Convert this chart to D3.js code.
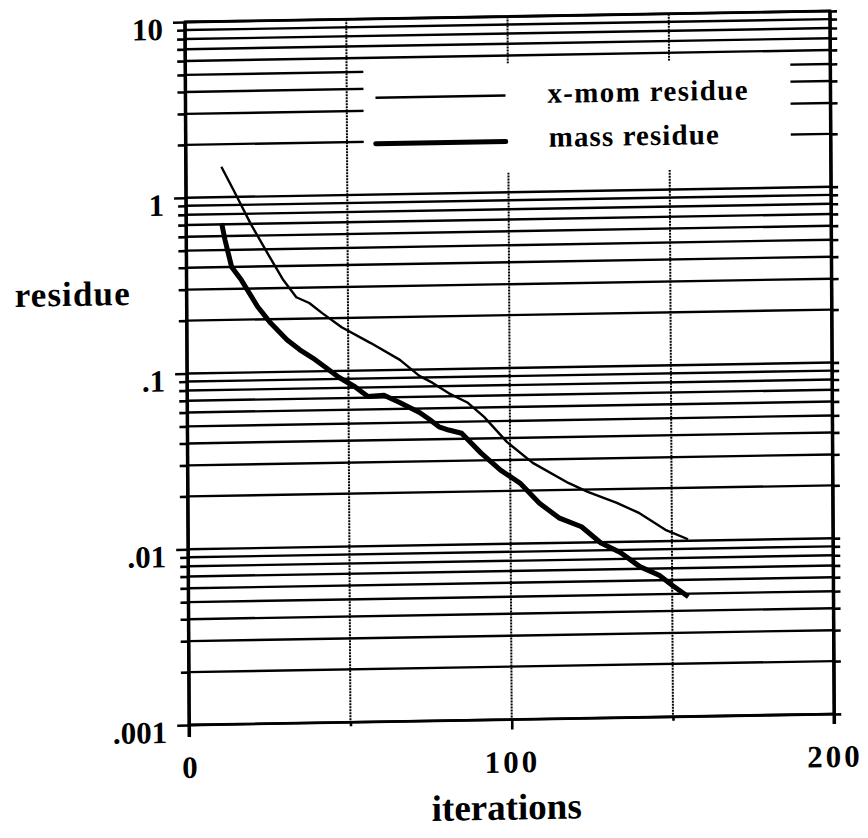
<!DOCTYPE html>
<html>
<head>
<meta charset="utf-8">
<script src="https://cdn.jsdelivr.net/npm/d3@7"></script>
<style>
  body { margin: 0; background: #fff; }
  text { font-family: "Liberation Serif", "Times New Roman", serif; font-weight: bold; fill: #000; }
</style>
</head>
<body>
<svg width="868" height="838"></svg>
<script>
  // x-mom residue (thin line)
  var xmomIter = [11, 15, 20, 25, 30, 34, 38, 42, 48, 57, 66, 72, 76, 81, 87, 92, 99, 107, 118, 124, 133, 140, 148, 155];
  var xmomRes  = [1.49, 1.07, 0.70, 0.48, 0.333, 0.265, 0.245, 0.214, 0.177, 0.143, 0.114, 0.092, 0.084, 0.073, 0.064, 0.053, 0.038, 0.0287, 0.0219, 0.0194, 0.0167, 0.0145, 0.0116, 0.0102];

  // mass residue (thick line)
  var massIter = [11, 12, 14, 17, 22, 26, 31, 35, 39, 43, 47, 52, 56, 61, 66, 72, 75, 78, 81, 85, 91, 97, 103, 109, 115, 122, 128, 134, 140, 146, 150, 155];
  var massRes  = [0.71, 0.57, 0.40, 0.336, 0.236, 0.190, 0.152, 0.133, 0.119, 0.105, 0.092, 0.081, 0.071, 0.072, 0.065, 0.057, 0.052, 0.047, 0.045, 0.043, 0.033, 0.0263, 0.0221, 0.0169, 0.0139, 0.0123, 0.0099, 0.0087, 0.0072, 0.0064, 0.0056, 0.0048];

  var yMajor = [10, 1, 0.1, 0.01, 0.001];
  var yLabels = ["10", "1", ".1", ".01", ".001"];
  var xTicks = [0, 50, 100, 150, 200];
  var xLabels = ["0", "", "100", "", "200"];
  var legendNames = ["x-mom residue", "mass residue"];

  var svg = d3.select("svg");
  var W = 645, H = 703;

  svg.append("rect").attr("width", 868).attr("height", 838).attr("fill", "#fff");

  // slight skew, like the scanned page
  var g = svg.append("g")
      .attr("transform", "matrix(1,-0.017,0.006,1,185,22)");

  var x = d3.scaleLinear().domain([0, 200]).range([0, W]);
  var y = d3.scaleLog().domain([0.001, 10]).range([H, 0]);

  var allY = y.ticks();
  var minorY = allY.filter(function(v) {
    return yMajor.every(function(m) { return Math.abs(v - m) / m > 1e-6; });
  });

  // horizontal grid at every log tick
  g.append("g").selectAll("line")
    .data(allY)
    .enter().append("line")
      .attr("x1", 0).attr("x2", W)
      .attr("y1", function(d) { return y(d); })
      .attr("y2", function(d) { return y(d); })
      .attr("stroke", "#000").attr("stroke-width", 2.4);

  // vertical dotted grid
  g.append("g").selectAll("line")
    .data([50, 100, 150])
    .enter().append("line")
      .attr("x1", function(d) { return x(d); })
      .attr("x2", function(d) { return x(d); })
      .attr("y1", 0).attr("y2", H)
      .attr("stroke", "#000").attr("stroke-width", 2)
      .attr("stroke-dasharray", "2,1");

  // legend box hides the grid under it
  g.append("rect")
      .attr("x", 178).attr("y", 47)
      .attr("width", 427).attr("height", 109)
      .attr("fill", "#fff");

  // frame
  g.append("rect")
      .attr("x", 0).attr("y", 0).attr("width", W).attr("height", H)
      .attr("fill", "none").attr("stroke", "#000").attr("stroke-width", 2.8);
  g.append("line").attr("x1", 0).attr("x2", 0).attr("y1", 0).attr("y2", H + 12)
      .attr("stroke", "#000").attr("stroke-width", 3.5);
  g.append("line").attr("x1", W).attr("x2", W).attr("y1", 0).attr("y2", H + 10)
      .attr("stroke", "#000").attr("stroke-width", 3.5);

  // left axis
  var yAxis = g.append("g")
      .call(d3.axisLeft(y)
          .tickValues(yMajor)
          .tickSize(12)
          .tickPadding(10)
          .tickFormat(function(d, i) { return yLabels[i]; }));
  yAxis.select(".domain").remove();
  yAxis.selectAll("line").attr("stroke-width", 2.6);
  yAxis.selectAll("text")
      .attr("dy", "0.55em")
      .style("font-size", "31px")
      .style("font-family", "'Liberation Serif', serif")
      .style("font-weight", "bold");

  var yMinor = g.append("g")
      .call(d3.axisLeft(y).tickValues(minorY).tickSize(8).tickFormat(""));
  yMinor.select(".domain").remove();
  yMinor.selectAll("line").attr("stroke-width", 2.6);

  // right axis ticks
  var yRight = g.append("g")
      .attr("transform", "translate(" + W + ",0)")
      .call(d3.axisRight(y).tickValues(allY).tickSize(7).tickFormat(""));
  yRight.select(".domain").remove();
  yRight.selectAll("line").attr("stroke-width", 2.6);

  // bottom axis
  var xAxis = g.append("g")
      .attr("transform", "translate(0," + H + ")")
      .call(d3.axisBottom(x)
          .tickValues(xTicks)
          .tickSize(10)
          .tickPadding(21)
          .tickFormat(function(d, i) { return xLabels[i]; }));
  xAxis.select(".domain").remove();
  xAxis.selectAll("line").attr("stroke-width", 2.6)
      .attr("y2", function(d) { return (d === 50 || d === 150) ? 4 : 10; });
  xAxis.selectAll("text")
      .style("font-size", "31px")
      .style("font-family", "'Liberation Serif', serif")
      .style("font-weight", "bold")
      .style("letter-spacing", function(d) { return d === 0 ? "0px" : "3px"; });

  // series
  var line = d3.line()
      .x(function(d) { return x(d[0]); })
      .y(function(d) { return y(d[1]); });

  g.append("path")
      .datum(d3.zip(xmomIter, xmomRes))
      .attr("d", line)
      .attr("fill", "none").attr("stroke", "#000")
      .attr("stroke-width", 2.4).attr("stroke-linejoin", "round");

  g.append("path")
      .datum(d3.zip(massIter, massRes))
      .attr("d", line)
      .attr("fill", "none").attr("stroke", "#000")
      .attr("stroke-width", 5).attr("stroke-linejoin", "round");

  // legend
  var leg = g.append("g");
  leg.append("line").attr("x1", 190).attr("x2", 320).attr("y1", 79).attr("y2", 79)
      .attr("stroke", "#000").attr("stroke-width", 2.4);
  leg.append("line").attr("x1", 190).attr("x2", 320).attr("y1", 125).attr("y2", 125)
      .attr("stroke", "#000").attr("stroke-width", 5).attr("stroke-linecap", "round");
  leg.append("text").attr("x", 362).attr("y", 87)
      .attr("textLength", 200).attr("lengthAdjust", "spacing")
      .style("font-size", "29px").text(legendNames[0]);
  leg.append("text").attr("x", 363).attr("y", 131)
      .attr("textLength", 170).attr("lengthAdjust", "spacing")
      .style("font-size", "29px").text(legendNames[1]);

  // axis titles
  g.append("text").attr("x", -172).attr("y", 282)
      .attr("textLength", 115).attr("lengthAdjust", "spacing")
      .style("font-size", "35px").text("residue");
  g.append("text").attr("x", 317).attr("y", 803)
      .attr("text-anchor", "middle")
      .style("font-size", "37px").text("iterations");
</script>
</body>
</html>
